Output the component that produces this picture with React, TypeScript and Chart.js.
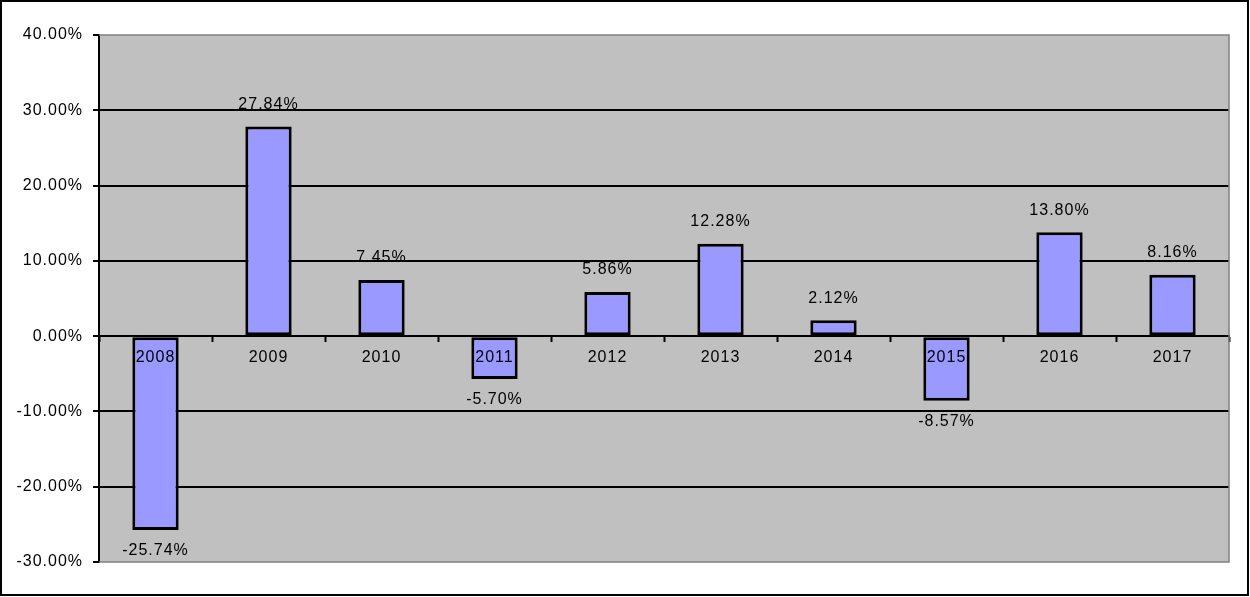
import React, { useEffect, useRef } from "react";
import { Chart, registerables } from "chart.js";

Chart.register(...registerables);

const categories = ["2008", "2009", "2010", "2011", "2012", "2013", "2014", "2015", "2016", "2017"];
const returns = [-25.74, 27.84, 7.45, -5.7, 5.86, 12.28, 2.12, -8.57, 13.8, 8.16];
const yMin = -30;
const yMax = 40;
const yStep = 10;

const FONT = "Arial, 'Liberation Sans', sans-serif";

const bgPlugin = {
  id: "bgPlugin",
  beforeDraw(chart: any) {
    const { ctx, chartArea, width, height } = chart;
    ctx.save();
    ctx.fillStyle = "#ffffff";
    ctx.fillRect(0, 0, width, height);
    ctx.fillStyle = "#C0C0C0";
    ctx.fillRect(chartArea.left, chartArea.top, chartArea.right - chartArea.left, chartArea.bottom - chartArea.top);
    ctx.restore();
    ctx.letterSpacing = "1px";
  },
  afterDatasetsDraw(chart: any) {
    const { ctx } = chart;
    const meta = chart.getDatasetMeta(0);
    ctx.save();
    ctx.font = "16px " + FONT;
    ctx.fillStyle = "#000000";
    ctx.textAlign = "center";
    ctx.textBaseline = "middle";
    meta.data.forEach((bar: any, i: number) => {
      const v = returns[i];
      const y = v >= 0 ? bar.y - 22 : bar.y + 21;
      ctx.fillText(v.toFixed(2) + "%", bar.x, y);
    });
    ctx.restore();
  },
  afterDraw(chart: any) {
    const { ctx, chartArea } = chart;
    ctx.save();
    ctx.strokeStyle = "#808080";
    ctx.lineWidth = 1.5;
    ctx.beginPath();
    ctx.moveTo(chartArea.left, chartArea.top);
    ctx.lineTo(chartArea.right, chartArea.top);
    ctx.lineTo(chartArea.right, chartArea.bottom);
    ctx.lineTo(chartArea.left, chartArea.bottom);
    ctx.stroke();
    ctx.strokeStyle = "#000000";
    ctx.lineWidth = 2;
    ctx.strokeRect(1, 1, 1247, 594);
    ctx.restore();
  },
};

export default function App() {
  const ref = useRef<HTMLCanvasElement>(null);
  useEffect(() => {
    document.body.style.margin = "0";
    const chart = new Chart(ref.current as HTMLCanvasElement, {
      type: "bar",
      data: {
        labels: categories,
        datasets: [
          {
            data: returns,
            backgroundColor: "#9999FF",
            borderColor: "#000000",
            borderWidth: 3,
            borderSkipped: false,
            barPercentage: 0.41,
            categoryPercentage: 1,
          },
        ],
      },
      options: {
        responsive: false,
        animation: false,
        layout: { padding: { top: 35, right: 21, bottom: 35, left: 0 } },
        plugins: { legend: { display: false }, tooltip: { enabled: false } },
        scales: {
          x: {
            position: { y: 0 } as any,
            grid: {
              display: true,
              drawOnChartArea: false,
              drawTicks: true,
              tickLength: 5,
              tickColor: "#000000",
              tickWidth: 2,
              offset: true,
              z: 1,
            },
            border: { display: true, color: "#000000", width: 2, z: 1 },
            ticks: {
              z: 1,
              color: "#000000",
              font: { size: 16, family: FONT },
              padding: 7,
              maxRotation: 0,
              autoSkip: false,
            },
          },
          y: {
            min: yMin,
            max: yMax,
            afterFit: (s: any) => {
              s.width = 99;
            },
            grid: {
              color: (c: any) =>
                c.tick && (c.tick.value === yMin || c.tick.value === yMax) ? "rgba(0,0,0,0)" : "#000000",
              lineWidth: 2,
              tickLength: 6,
              tickColor: "#000000",
              tickWidth: 2,
            },
            border: { display: true, color: "#000000", width: 2 },
            ticks: {
              stepSize: yStep,
              color: "#000000",
              font: { size: 16, family: FONT },
              padding: 10,
              callback: (v: any) => Number(v).toFixed(2) + "%",
            },
          },
        },
      },
      plugins: [bgPlugin],
    });
    return () => chart.destroy();
  }, []);
  return (
    <div style={{ width: 1250, height: 597 }}>
      <canvas ref={ref} width={1250} height={597} style={{ display: "block" }} />
    </div>
  );
}
